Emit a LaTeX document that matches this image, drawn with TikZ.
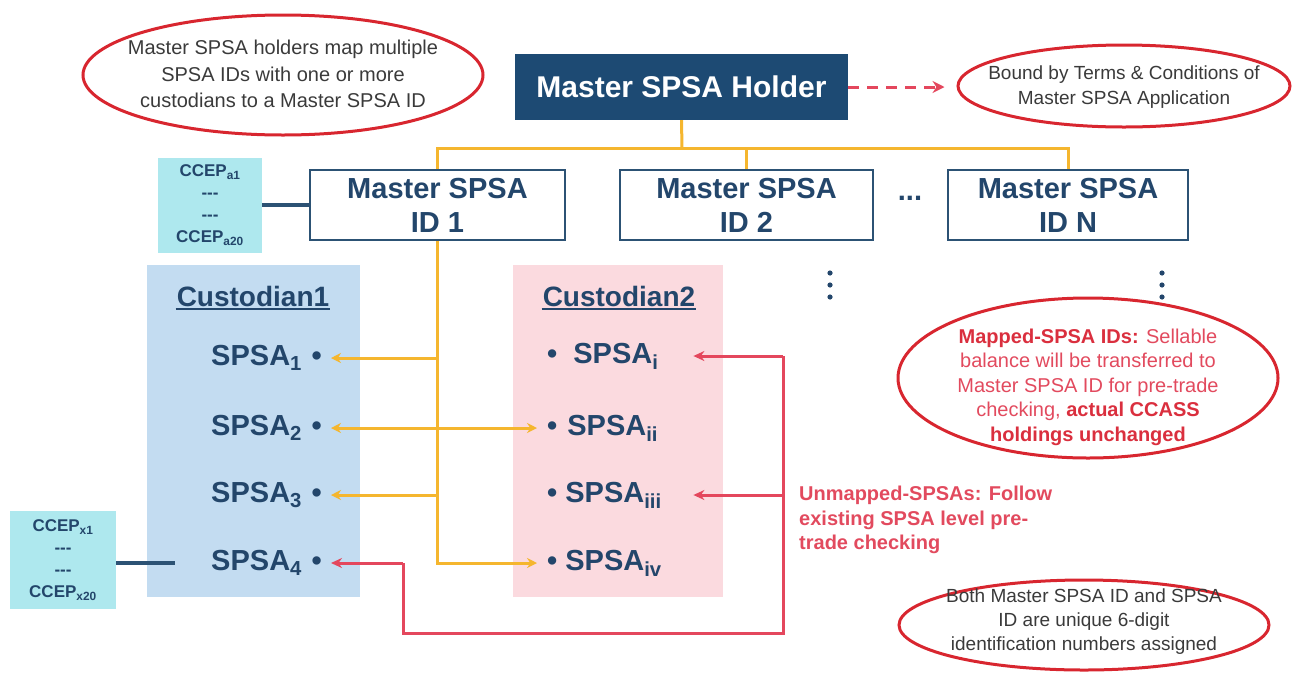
\documentclass[tikz,border=0pt]{standalone}
\usepackage{fontspec}
\setmainfont{Liberation Sans}
\usetikzlibrary{shapes.geometric,arrows.meta}
\definecolor{navyfill}{HTML}{1D4A73}
\definecolor{textnavy}{HTML}{23466B}
\definecolor{idborder}{HTML}{2C5274}
\definecolor{goldline}{HTML}{F5B62E}
\definecolor{redline}{HTML}{E4475D}
\definecolor{ovalred}{HTML}{D8262F}
\definecolor{custblue}{HTML}{C3DCF1}
\definecolor{custpink}{HTML}{FBDADF}
\definecolor{ccepfill}{HTML}{AEE8EE}
\definecolor{graytext}{HTML}{3A3A3A}
\definecolor{redtxt}{HTML}{E24A5E}
\definecolor{redbold}{HTML}{DA2F3E}
\begin{document}
\begin{tikzpicture}[x=1pt,y=-1pt,
  holderbox/.style={rectangle, fill=navyfill, text=white, font=\bfseries\fontsize{30}{34}\selectfont, minimum width=333pt, minimum height=66pt, inner sep=0pt},
  idbox/.style={rectangle, draw=idborder, line width=2.8pt, text=textnavy, font=\bfseries\fontsize{29}{34}\selectfont, align=center, minimum height=70pt, inner sep=0pt},
  custbox/.style={rectangle, minimum height=332pt, inner sep=0pt},
  custtitle/.style={text=textnavy, font=\bfseries\fontsize{28}{32}\selectfont, inner sep=1pt},
  itemleft/.style={anchor=east, align=right, text width=140pt, inner sep=0pt, text=textnavy, font=\bfseries\fontsize{29}{32}\selectfont},
  itemright/.style={anchor=west, align=left, text width=156pt, inner sep=0pt, text=textnavy, font=\bfseries\fontsize{29}{32}\selectfont},
  ccep/.style={rectangle, fill=ccepfill, text=textnavy, font=\bfseries\fontsize{17}{22}\selectfont, align=center, inner sep=0pt},
  oval/.style={ellipse, draw=ovalred, line width=3pt, inner sep=0pt},
  grayt/.style={text=graytext, font=\fontsize{20}{26.5}\selectfont, align=center, inner sep=0pt},
  yline/.style={draw=goldline, line width=3pt},
  ytip/.style={yline, -{Stealth[length=10pt,width=10pt]}},
  rline/.style={draw=redline, line width=3pt},
  rtip/.style={rline, -{Stealth[length=11pt,width=10pt]}},
  navylink/.style={draw=idborder, line width=4pt}
]
\useasboundingbox (0,0) rectangle (1306,673);

% custodian panels
\node[custbox, fill=custblue, minimum width=213pt] (cust1) at (253.5,431) {};
\node[custbox, fill=custpink, minimum width=210pt] (cust2) at (618,431) {};
\node[custtitle] (c1t) at (253,296) {Custodian1};
\node[custtitle] (c2t) at (619,296) {Custodian2};
\draw[textnavy, line width=2pt] ([yshift=-2pt]c1t.south west) -- ([yshift=-2pt]c1t.south east);
\draw[textnavy, line width=2pt] ([yshift=-2pt]c2t.south west) -- ([yshift=-2pt]c2t.south east);

% top holder
\node[holderbox] (holder) at (681.5,87) {Master SPSA Holder};

% ID boxes
\node[idbox, minimum width=255pt] (id1) at (437.5,205) {Master SPSA\\ID 1};
\node[idbox, minimum width=253pt] (id2) at (746.5,205) {Master SPSA\\ID 2};
\node[idbox, minimum width=240pt] (idN) at (1068,205) {Master SPSA\\ID N};
\node[text=textnavy, font=\bfseries\fontsize{29}{32}\selectfont, inner sep=0pt] (hdots) at (910,198) {...};
\foreach \yy in {273,285,297}{
  \fill[textnavy] (830,\yy) circle (2.6pt);
  \fill[textnavy] (1162,\yy) circle (2.6pt);
}

% CCEP boxes
\node[ccep, minimum width=104pt, minimum height=95pt] (cc1) at (210,205) {CCEP\textsubscript{a1}\\-{}-{}-\\-{}-{}-\\CCEP\textsubscript{a20}};
\node[ccep, minimum width=106pt, minimum height=98pt] (cc2) at (63,560) {CCEP\textsubscript{x1}\\-{}-{}-\\-{}-{}-\\CCEP\textsubscript{x20}};

% SPSA items
\node[itemleft] (s1) at (331,358) {SPSA\textsubscript{1} \textbullet\hspace*{9pt}};
\node[itemleft] (s2) at (331,428) {SPSA\textsubscript{2} \textbullet\hspace*{9pt}};
\node[itemleft] (s3) at (331,495) {SPSA\textsubscript{3} \textbullet\hspace*{9pt}};
\node[itemleft] (s4) at (331,563) {SPSA\textsubscript{4} \textbullet\hspace*{9pt}};
\node[itemright] (si) at (537,356) {\hspace*{10pt}\textbullet\hspace*{16pt}SPSA\textsubscript{i}};
\node[itemright] (sii) at (537,428) {\hspace*{10pt}\textbullet\hspace*{10pt}SPSA\textsubscript{ii}};
\node[itemright] (siii) at (537,495) {\hspace*{10pt}\textbullet\hspace*{8pt}SPSA\textsubscript{iii}};
\node[itemright] (siv) at (537,563) {\hspace*{10pt}\textbullet\hspace*{8pt}SPSA\textsubscript{iv}};

% ellipses
\node[oval, minimum width=400pt, minimum height=120pt] (ovtl) at (283,75) {};
\node[grayt] (ovtlt) at (283,74) {Master SPSA holders map multiple\\SPSA IDs with one or more\\custodians to a Master SPSA ID};
\node[oval, minimum width=332pt, minimum height=82pt] (ovb) at (1124,86) {};
\node[grayt, font=\fontsize{19}{25}\selectfont] (ovbt) at (1124,87) {Bound by Terms \& Conditions of\\Master SPSA Application};
\node[oval, minimum width=380pt, minimum height=160pt] (ovm) at (1088,378) {};
\node[text=redtxt, font=\fontsize{20}{24.5}\selectfont, align=center, inner sep=0pt] (ovmt) at (1088,387) {\textcolor{redbold}{\bfseries Mapped-SPSA IDs:} Sellable\\balance will be transferred to\\Master SPSA ID for pre-trade\\checking, \textcolor{redbold}{\bfseries actual CCASS}\\\textcolor{redbold}{\bfseries holdings unchanged}};
\node[oval, minimum width=370pt, minimum height=90pt] (ovu) at (1084,625) {};
\node[grayt, font=\fontsize{19}{24}\selectfont] (ovut) at (1084,622) {Both Master SPSA ID and SPSA\\ID are unique 6-digit\\identification numbers assigned};

% unmapped note
\node[anchor=north west, align=left, text=redtxt, font=\bfseries\fontsize{20}{24.5}\selectfont, inner sep=0pt] (unm) at (799,486) {Unmapped-SPSAs: Follow\\existing SPSA level pre-\\trade checking};

% dashed arrow
\draw[draw=redline, line width=3pt, dash pattern=on 11pt off 8pt, -{Stealth[length=12pt,width=12pt]}, shorten >=12pt] (holder.east) -- (holder.east -| ovb.west);

% gold connectors
\coordinate (bus) at (682,148);
\draw[yline] (holder.south) -- (bus);
\draw[yline] (id1.north) |- (bus -| idN.north) -- (idN.north);
\draw[yline] (id2.north) -- (id2.north |- bus);
\draw[ytip] (id1.south) |- (siv.west);
\draw[ytip] (s1.east -| id1.south) -- (s1.east);
\draw[ytip] (s3.east -| id1.south) -- (s3.east);
\draw[yline, {Stealth[length=10pt,width=10pt]}-{Stealth[length=10pt,width=10pt]}] (s2.east) -- (sii.west);

% red connectors
\coordinate (rb) at (783,633);
\coordinate (lb) at (403,633);
\draw[rline] (si.east -| rb) -- (rb) -- (lb) -- (lb |- s4.east);
\draw[rtip] (si.east -| rb) -- (si.east);
\draw[rtip] (siii.east -| rb) -- (siii.east);
\draw[rtip] (lb |- s4.east) -- (s4.east);

% navy links
\draw[navylink] (cc1.east) -- (id1.west);
\draw[navylink, shorten >=16pt] (cc2.east |- s4.west) -- (s4.west);
\end{tikzpicture}
\end{document}
